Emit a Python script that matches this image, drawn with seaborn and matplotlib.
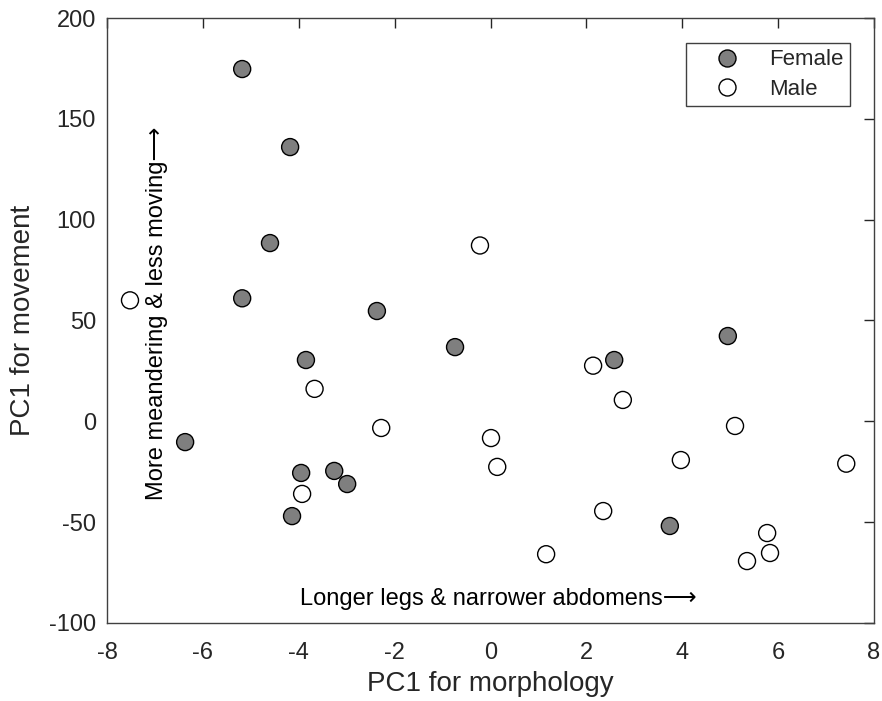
import matplotlib
matplotlib.use("Agg")
import matplotlib.pyplot as plt
import seaborn as sns
import pandas as pd

# female points (PC1 morphology, PC1 movement)
female_x = [-5.18, -4.18, -4.60, -5.18, -2.37, -3.85, -0.74, -6.37, -3.95, -3.26, -2.99, -4.14, 2.58, 4.95, 3.74]
female_y = [174.7, 136.0, 88.4, 61.0, 54.7, 30.4, 36.8, -10.3, -25.6, -24.6, -31.1, -47.0, 30.4, 42.3, -51.9]

# male points
male_x = [-7.52, -0.22, -3.67, -2.28, -3.93, 2.14, 2.76, 0.01, 0.14, 5.10, 3.97, 7.42, 2.35, 1.16, 5.77, 5.83, 5.35]
male_y = [60.0, 87.2, 16.1, -3.3, -36.0, 27.6, 10.6, -8.3, -22.6, -2.3, -19.2, -21.0, -44.5, -65.9, -55.4, -65.3, -69.3]

df = pd.concat([
    pd.DataFrame({"morph": female_x, "move": female_y, "Sex": "Female"}),
    pd.DataFrame({"morph": male_x, "move": male_y, "Sex": "Male"}),
], ignore_index=True)

sns.set_style("white")
plt.rcParams['font.family'] = ['Liberation Sans', 'DejaVu Sans']
plt.rcParams['axes.unicode_minus'] = False
txt = "#262626"

fig = plt.figure(figsize=(8.82, 7.01), dpi=100)
ax = fig.add_axes([0.1213, 0.1113, 0.8697, 0.863])

sns.scatterplot(data=df, x="morph", y="move", hue="Sex",
                palette={"Female": "#7f7f7f", "Male": "white"},
                edgecolor="black", linewidth=1.0, s=150, ax=ax, zorder=3)

ax.set_xlim(-8, 8)
ax.set_ylim(-100, 200)
ax.set_xticks(range(-8, 9, 2))
ax.set_yticks(range(-100, 201, 50))
ax.tick_params(direction="in", length=7, width=1, top=True, right=True,
               labelsize=17, colors=txt, labelcolor=txt)
ax.tick_params(axis="x", pad=14)
ax.tick_params(axis="y", pad=8)
for sp in ax.spines.values():
    sp.set_color("#404040")
    sp.set_linewidth(1)

ax.set_xlabel("PC1 for morphology", fontsize=20, color=txt, labelpad=5)
ax.set_ylabel("PC1 for movement", fontsize=20, color=txt, labelpad=9)

ax.text(-3.97, -88, "Longer legs & narrower abdomens\u27f6", fontsize=17,
        ha="left", va="center", color="black")
ax.text(-6.96, -39, "More meandering & less moving\u27f6", fontsize=17,
        rotation=90, ha="center", va="bottom", color="black")

leg = ax.legend(loc="upper right", bbox_to_anchor=(0.969, 0.959), fontsize=16,
                frameon=True, fancybox=False, framealpha=1, edgecolor="#404040",
                handlelength=3.07, handletextpad=0.36, borderpad=0.3,
                labelspacing=0.37, borderaxespad=0, markerscale=1.0, title=None)
leg.get_frame().set_linewidth(1)
for h in leg.legend_handles:
    h.set_markeredgecolor("black")

fig.savefig("out.png", dpi=100)
